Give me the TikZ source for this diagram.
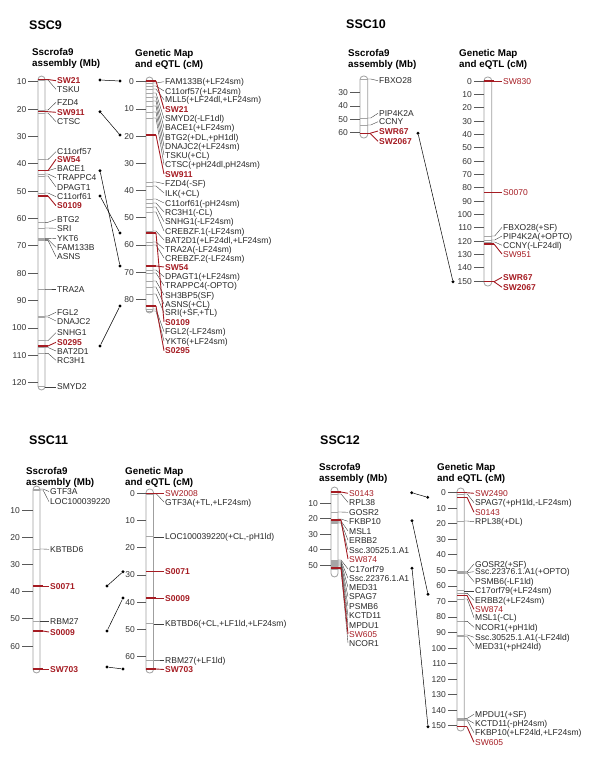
\documentclass[tikz,border=0pt]{standalone}
\usepackage{fontspec}
\setmainfont{Liberation Sans}
\definecolor{mkred}{RGB}{165,28,35}

\begin{document}
\begin{tikzpicture}[x=1pt, y=-1pt,
    every node/.style={font=\fontsize{8.5}{10}\selectfont},
    title/.style={font=\bfseries\fontsize{12.5}{14}\selectfont, anchor=west, inner sep=0pt},
    heading/.style={font=\bfseries\fontsize{9.8}{11.5}\selectfont, align=left, anchor=north west, inner sep=0pt},
    num/.style={anchor=east, inner sep=0pt, text=black!80, text height=6.1pt, text depth=0pt},
    gene/.style={anchor=west, inner sep=1pt, text=black!85, text height=6.1pt, text depth=0pt},
    redmark/.style={gene, text=mkred, font=\bfseries\fontsize{8.5}{10}\selectfont},
    redmarkn/.style={gene, text=mkred},
    chrom/.style={draw=gray!75, line width=0.8pt, fill=white, rounded corners=3.5pt},
    scaletick/.style={draw=black!65, line width=0.7pt},
    band/.style={draw=gray!70, line width=0.7pt},
    rband/.style={draw=mkred, line width=1.2pt},
    conn/.style={draw=black!75, line width=0.4pt},
    rconn/.style={draw=mkred, line width=0.9pt},
    link/.style={draw=black, line width=0.5pt},
    linkdot/.style={circle, fill=black, inner sep=0pt, minimum size=3.2pt}
]
\useasboundingbox (0,0) rectangle (600,763);

% ================= SSC9 =================
\node[title] (t9) at (29,25) {SSC9};
\node[heading] (h9a) at (32,48) {Sscrofa9\\assembly (Mb)};
\node[heading] (h9g) at (135,49) {Genetic Map\\and eQTL (cM)};

% Draw the two bars
\draw[chrom] (38,76) rectangle (45,390);
\draw[chrom] (146,77) rectangle (153,313);

% Scales
\foreach \m in {10,20,...,120}{
  \pgfmathsetmacro{\yy}{81.7+(\m-10)*2.735}
  \draw[scaletick] (28,\yy) -- (38,\yy);
  \node[num] (s9a\m) at (26.5,\yy) {\m};
}
\foreach \m in {0,10,...,80}{
  \pgfmathsetmacro{\yy}{81.7+\m*2.72}
  \draw[scaletick] (136,\yy) -- (146,\yy);
  \node[num] (s9g\m) at (134,\yy) {\m};
}

% Assembly genes
\foreach \b/\l/\t [count=\i] in {80/89.3/TSKU, 110/102.3/FZD4, 113/121.7/CTSC,
    159.5/151.7/C11orf57, 170.7/168.3/BACE1, 174/177.7/TRAPPC4, 176/187/DPAGT1,
    193/196.7/C11orf61, 222.3/219.3/BTG2, 228/228.3/SRI, 238.3/238.7/YKT6,
    239.3/247.3/FAM133B, 240.3/256.7/ASNS, 289/289/TRA2A, 316/312.3/FGL2,
    317/321/DNAJC2, 340.7/332.7/SNHG1, 347.5/351/BAT2D1, 353.3/360.3/RC3H1,
    386.7/386.7/SMYD2}{
  \draw[band] (38,\b) -- (45,\b);
  \coordinate (a9b\i) at (45,\b);
  \node[gene] (a9g\i) at (56,\l) {\t};
  \draw[conn] (a9b\i) -- ++(3,0) -- (a9g\i.west);
}
% Assembly markers
\foreach \b/\l/\t [count=\i] in {79.5/80.7/SW21, 111.7/112.3/SW911, 170.7/159.3/SW54,
    196/205.7/S0109, 346/342.3/S0295}{
  \coordinate (a9r\i) at (48,\b);
  \draw[rband] (38,\b) -- (a9r\i);
  \node[redmark] (a9m\i) at (56,\l) {\t};
  \draw[rconn] (a9r\i) -- (a9m\i.west);
}

% Genetic map genes
\foreach \b/\l/\t [count=\i] in {83/81.7/{FAM133B(+LF24sm)}, 86/91/{C11orf57(+LF24sm)},
    89/99.7/{MLL5(+LF24dl,+LF24sm)}, 93/118.7/{SMYD2(-LF1dl)}, 97/127.7/{BACE1(+LF24sm)},
    101/137/{BTG2(+DL,+pH1dl)}, 106/146/{DNAJC2(+LF24sm)}, 112/155/{TSKU(+CL)},
    118/164.7/{CTSC(+pH24dl,pH24sm)}, 182/183.7/{FZD4(-SF)}, 186/193/{ILK(+CL)},
    199/203/{C11orf61(-pH24sm)}, 203/212/{RC3H1(-CL)}, 207/221.7/{SNHG1(-LF24sm)},
    212/231/{CREBZF.1(-LF24sm)}, 231/240/{BAT2D1(+LF24dl,+LF24sm)}, 242/249/{TRA2A(-LF24sm)},
    245/258/{CREBZF.2(-LF24sm)}, 270/276.7/{DPAGT1(+LF24sm)}, 273/285.7/{TRAPPC4(-OPTO)},
    281/295/{SH3BP5(SF)}, 287/304/{ASNS(+CL)}, 294/312.7/{SRI(+SF,+TL)},
    309/331.7/{FGL2(-LF24sm)}, 311/341/{YKT6(+LF24sm)}}{
  \draw[band] (146,\b) -- (153,\b);
  \coordinate (g9b\i) at (153,\b);
  \node[gene] (g9g\i) at (164,\l) {\t};
  \draw[conn] (g9b\i) -- ++(3,0) -- (g9g\i.west);
}
% Genetic map markers
\foreach \b/\l/\t [count=\i] in {81/109/SW21, 135/174/SW911, 233/322/S0109,
    266/267/SW54, 306/350.7/S0295}{
  \coordinate (g9r\i) at (156,\b);
  \draw[rband] (146,\b) -- (g9r\i);
  \node[redmark] (g9m\i) at (164,\l) {\t};
  \draw[rconn] (g9r\i) -- (g9m\i.west);
}

% Links between the maps
\foreach \xa/\ya/\xb/\yb [count=\i] in {100/80/120/81, 100/111.7/120/135,
    100/170.7/120/266, 100/196/120/233, 100/346/120/306}{
  \node[linkdot] (k9s\i) at (\xa,\ya) {};
  \node[linkdot] (k9e\i) at (\xb,\yb) {};
  \draw[link] (k9s\i) -- (k9e\i);
}

% ================= SSC10 =================
\node[title] (t10) at (346,24) {SSC10};
\node[heading] (h10a) at (348,49) {Sscrofa9\\assembly (Mb)};
\node[heading] (h10g) at (459,49) {Genetic Map\\and eQTL (cM)};

\draw[chrom] (360,76) rectangle (367.7,138);
\draw[chrom] (484,77) rectangle (491.7,286);

\foreach \m in {30,40,50,60}{
  \pgfmathsetmacro{\yy}{92.7+(\m-30)*1.32}
  \draw[scaletick] (350,\yy) -- (360,\yy);
  \node[num] (s10a\m) at (348,\yy) {\m};
}
\foreach \m in {0,10,...,150}{
  \pgfmathsetmacro{\yy}{81+\m*1.333}
  \draw[scaletick] (474,\yy) -- (484,\yy);
  \node[num] (s10g\m) at (472,\yy) {\m};
}

\foreach \b/\l/\t [count=\i] in {79/80.7/FBXO28, 118/113.3/PIP4K2A, 125/121.7/CCNY}{
  \draw[band] (360,\b) -- (367.7,\b);
  \coordinate (a10b\i) at (367.7,\b);
  \node[gene] (a10g\i) at (378,\l) {\t};
  \draw[conn] (a10b\i) -- ++(3,0) -- (a10g\i.west);
}
\foreach \b/\l/\t [count=\i] in {133.3/131/SWR67, 133.3/141.3/SW2067}{
  \coordinate (a10r\i) at (370,\b);
  \draw[rband] (360,\b) -- (a10r\i);
  \node[redmark] (a10m\i) at (378,\l) {\t};
  \draw[rconn] (a10r\i) -- (a10m\i.west);
}

\foreach \b/\l/\t [count=\i] in {236/227.3/{FBXO28(+SF)}, 240/236/{PIP4K2A(+OPTO)},
    242/245.3/{CCNY(-LF24dl)}}{
  \draw[band] (484,\b) -- (491.7,\b);
  \coordinate (g10b\i) at (491.7,\b);
  \node[gene] (g10g\i) at (502,\l) {\t};
  \draw[conn] (g10b\i) -- ++(3,0) -- (g10g\i.west);
}
\foreach \b/\l/\t [count=\i] in {81/81/SW830, 192.3/192.3/S0070, 244/254/SW951}{
  \coordinate (g10r\i) at (494,\b);
  \draw[rband] (484,\b) -- (g10r\i);
  \node[redmarkn] (g10m\i) at (502,\l) {\t};
  \draw[rconn] (g10r\i) -- (g10m\i.west);
}
\foreach \b/\l/\t [count=\i] in {281.7/277.3/SWR67, 281.7/287.3/SW2067}{
  \coordinate (g10q\i) at (494,\b);
  \draw[rband] (484,\b) -- (g10q\i);
  \node[redmark] (g10n\i) at (502,\l) {\t};
  \draw[rconn] (g10q\i) -- (g10n\i.west);
}

\node[linkdot] (k10s) at (418,133.3) {};
\node[linkdot] (k10e) at (453,281.7) {};
\draw[link] (k10s) -- (k10e);

% ================= SSC11 =================
\node[title] (t11) at (29,440) {SSC11};
\node[heading] (h11a) at (26,467) {Sscrofa9\\assembly (Mb)};
\node[heading] (h11g) at (125,467) {Genetic Map\\and eQTL (cM)};

\draw[chrom] (33,486) rectangle (40,673);
\draw[chrom] (146,489) rectangle (153.5,673);

\foreach \m in {10,20,...,60}{
  \pgfmathsetmacro{\yy}{510+(\m-10)*2.72}
  \draw[scaletick] (22,\yy) -- (33,\yy);
  \node[num] (s11a\m) at (20,\yy) {\m};
}
\foreach \m in {0,10,...,60}{
  \pgfmathsetmacro{\yy}{493.3+\m*2.72}
  \draw[scaletick] (137,\yy) -- (146,\yy);
  \node[num] (s11g\m) at (135,\yy) {\m};
}

\foreach \b/\l/\t [count=\i] in {489/491.5/GTF3A, 490/501.7/LOC100039220,
    549/549.3/KBTBD6, 621.5/621.5/RBM27}{
  \draw[band] (33,\b) -- (40,\b);
  \coordinate (a11b\i) at (40,\b);
  \node[gene] (a11g\i) at (49,\l) {\t};
  \draw[conn] (a11b\i) -- ++(3,0) -- (a11g\i.west);
}
\foreach \b/\l/\t [count=\i] in {586/586/S0071, 631/632/S0009, 669/669/SW703}{
  \coordinate (a11r\i) at (43,\b);
  \draw[rband] (33,\b) -- (a11r\i);
  \node[redmark] (a11m\i) at (49,\l) {\t};
  \draw[rconn] (a11r\i) -- (a11m\i.west);
}

\foreach \b/\l/\t [count=\i] in {494/502/{GTF3A(+TL,+LF24sm)},
    536.7/536.7/{LOC100039220(+CL,-pH1ld)}, 623.7/623.7/{KBTBD6(+CL,+LF1ld,+LF24sm)},
    660/660/{RBM27(+LF1ld)}}{
  \draw[band] (146,\b) -- (153.5,\b);
  \coordinate (g11b\i) at (153.5,\b);
  \node[gene] (g11g\i) at (164,\l) {\t};
  \draw[conn] (g11b\i) -- ++(3,0) -- (g11g\i.west);
}
\node[redmarkn] (g11m0) at (164,493.3) {SW2008};
\coordinate (g11r0) at (156,493.3);
\draw[rband] (146,493.3) -- (g11r0);
\draw[rconn] (g11r0) -- (g11m0.west);
\foreach \b/\l/\t [count=\i] in {571.7/571.7/S0071, 598/598/S0009, 669/669.5/SW703}{
  \coordinate (g11r\i) at (156,\b);
  \draw[rband] (146,\b) -- (g11r\i);
  \node[redmark] (g11m\i) at (164,\l) {\t};
  \draw[rconn] (g11r\i) -- (g11m\i.west);
}

\foreach \xa/\ya/\xb/\yb [count=\i] in {107/586/123/571.7, 107/631/123/598, 107/667/123/669}{
  \node[linkdot] (k11s\i) at (\xa,\ya) {};
  \node[linkdot] (k11e\i) at (\xb,\yb) {};
  \draw[link] (k11s\i) -- (k11e\i);
}

% ================= SSC12 =================
\node[title] (t12) at (320,440) {SSC12};
\node[heading] (h12a) at (319,463) {Sscrofa9\\assembly (Mb)};
\node[heading] (h12g) at (437,463) {Genetic Map\\and eQTL (cM)};

\draw[chrom] (331,487) rectangle (338,577);
\draw[chrom] (457,488) rectangle (464.3,731);

\foreach \m in {10,20,...,50}{
  \pgfmathsetmacro{\yy}{487.8+\m*1.55}
  \draw[scaletick] (320,\yy) -- (331,\yy);
  \node[num] (s12a\m) at (318,\yy) {\m};
}
\foreach \m in {0,10,...,150}{
  \pgfmathsetmacro{\yy}{492.7+\m*1.553}
  \draw[scaletick] (448,\yy) -- (457,\yy);
  \node[num] (s12g\m) at (446,\yy) {\m};
}

\foreach \b/\l/\t [count=\i] in {494/502.3/RPL38, 512/512.3/GOSR2, 519/521.3/FKBP10,
    521/531/MSL1, 522/540.3/ERBB2, 523/550/Ssc.30525.1.A1, 560/569/C17orf79,
    561/578.3/Ssc.22376.1.A1, 562/587.3/MED31, 563/596.7/SPAG7, 564/606/PSMB6,
    565/615.7/KCTD11, 566/625/MPDU1, 569/643/NCOR1}{
  \draw[band] (331,\b) -- (338,\b);
  \coordinate (a12b\i) at (338,\b);
  \node[gene] (a12g\i) at (348,\l) {\t};
  \draw[conn] (a12b\i) -- ++(3,0) -- (a12g\i.west);
}
\foreach \b/\l/\t [count=\i] in {492/493.3/S0143, 520/559/SW874, 568/634/SW605}{
  \coordinate (a12r\i) at (341,\b);
  \draw[rband] (331,\b) -- (a12r\i);
  \node[redmarkn] (a12m\i) at (348,\l) {\t};
  \draw[rconn] (a12r\i) -- (a12m\i.west);
}

\foreach \b/\l/\t [count=\i] in {494/502.7/{SPAG7(+pH1ld,-LF24sm)}, 521/521.7/{RPL38(+DL)},
    571.7/564/{GOSR2(+SF)}, 572.5/571.7/{Ssc.22376.1.A1(+OPTO)}, 573.5/581.7/{PSMB6(-LF1ld)},
    590.7/590.7/{C17orf79(+LF24sm)}, 593.3/600.3/{ERBB2(+LF24sm)}, 599/617.7/{MSL1(-CL)},
    621.3/627.3/{NCOR1(+pH1ld)}, 635/637.3/{Ssc.30525.1.A1(-LF24ld)},
    636.7/646/{MED31(+pH24ld)}, 718.3/714.3/{MPDU1(+SF)}, 719.5/723.3/{KCTD11(-pH24sm)},
    720.5/732.7/{FKBP10(+LF24ld,+LF24sm)}}{
  \draw[band] (457,\b) -- (464.3,\b);
  \coordinate (g12b\i) at (464.3,\b);
  \node[gene] (g12g\i) at (474,\l) {\t};
  \draw[conn] (g12b\i) -- ++(3,0) -- (g12g\i.west);
}
\foreach \b/\l/\t [count=\i] in {492.7/493.3/SW2490, 497.3/512.3/S0143, 595.3/609.3/SW874,
    726.7/742.3/SW605}{
  \coordinate (g12r\i) at (467,\b);
  \draw[rband] (457,\b) -- (g12r\i);
  \node[redmarkn] (g12m\i) at (474,\l) {\t};
  \draw[rconn] (g12r\i) -- (g12m\i.west);
}

\foreach \xa/\ya/\xb/\yb [count=\i] in {411.7/492.7/427.7/497.3, 412/520.7/428/594.3,
    412/568.3/428/726.7}{
  \node[linkdot] (k12s\i) at (\xa,\ya) {};
  \node[linkdot] (k12e\i) at (\xb,\yb) {};
  \draw[link] (k12s\i) -- (k12e\i);
}

\end{tikzpicture}
\end{document}
